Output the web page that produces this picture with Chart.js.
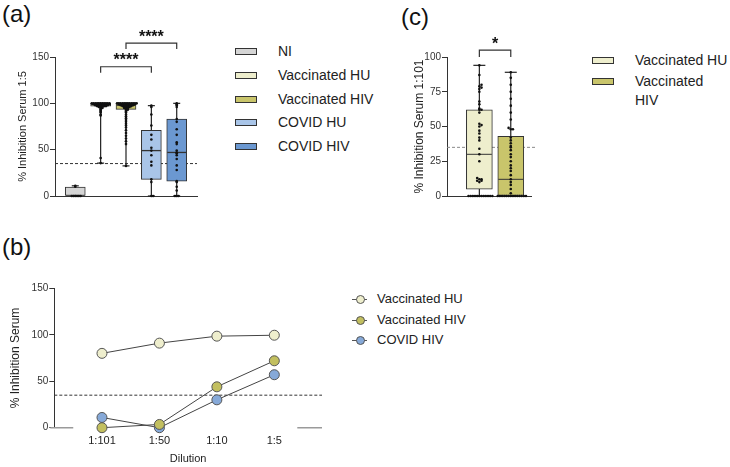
<!DOCTYPE html>
<html>
<head>
<meta charset="utf-8">
<script src="https://cdn.jsdelivr.net/npm/chart.js@4.4.1/dist/chart.umd.min.js"></script>
<style>
body { margin: 0; background: #fff; font-family: "Liberation Sans", Arial, sans-serif; }
#page { position: relative; width: 730px; height: 467px; overflow: hidden; }
canvas { position: absolute; }
.tag { position: absolute; font-size: 24px; line-height: 24px; color: #111; }
.row { position: absolute; color: #222; }
.sw { position: absolute; width: 20px; height: 5px; border: 1px solid #333; }
.mk-line { position: absolute; width: 15px; height: 1px; background: #555; }
.mk-dot { position: absolute; width: 7px; height: 7px; border: 1px solid #555; border-radius: 50%; }
</style>
</head>
<body>
<div id="page">
  <div class="tag" style="left:2px;top:2px">(a)</div>
  <div class="tag" style="left:2px;top:235px">(b)</div>
  <div class="tag" style="left:401px;top:5px">(c)</div>

  <canvas id="chart-a" width="215" height="215" style="left:0;top:0"></canvas>
  <canvas id="chart-b" width="330" height="207" style="left:0;top:260px"></canvas>
  <canvas id="chart-c" width="150" height="215" style="left:395px;top:0"></canvas>

  <div id="legend-a"></div>
  <div id="legend-b"></div>
  <div id="legend-c"></div>
</div>
<script>
const FONT = '"Liberation Sans", Arial, sans-serif';

// ---- panel (a): % inhibition serum 1:5
const groups_a = ['NI', 'Vaccinated HU', 'Vaccinated HIV', 'COVID HU', 'COVID HIV'];
const min_a = [0, 35.5, 32.5, 0, 0];
const q1_a = [0, 97, 93.5, 18, 16];
const median_a = [0, 99, 98, 49, 47];
const q3_a = [9.5, 100, 100, 71, 83];
const max_a = [11, 100, 100, 97.5, 100];
const points_a = [
    [0, 0, 0, 0, 0, 0, 10, 11],
    [35.5, 41, 87, 88, 90, 91, 92, 93, 94, 95, 95, 96, 96, 96,
     97, 97, 97, 97, 97, 97, 98, 98, 98, 98, 98, 98, 98, 98,
     99, 99, 99, 99, 99, 99, 99, 99, 99, 99,
     100, 100, 100, 100, 100, 100, 100, 100, 100, 100, 100],
    [32.5, 56, 59, 62, 65, 68, 71, 74, 76, 78, 80, 82, 84, 86, 88, 90, 91, 92, 93, 93, 94, 94, 95, 95, 95,
     96, 96, 96, 96, 97, 97, 97, 97, 97, 97, 98, 98, 98, 98, 98, 98, 98, 98,
     99, 99, 99, 99, 99, 99, 99, 99, 99, 99,
     100, 100, 100, 100, 100, 100, 100, 100, 100, 100, 100, 100],
    [0, 0, 15, 18, 33, 37, 44, 49, 52, 61, 66, 76, 88, 96, 97.5],
    [0, 0, 0, 6, 10, 15, 16, 28, 33, 40, 44, 46, 47, 49, 56, 58, 66, 72, 80, 83, 96, 98, 99, 100]
];
const sig_a = [
    {from: 1, to: 3, y: 139.5, text: '****'},
    {from: 2, to: 4, y: 165, text: '****'}
];
const threshold = 35;

// ---- panel (b): dilution curves
const dilutions = ['1:101', '1:50', '1:10', '1:5'];
const series_b = ['Vaccinated HU', 'Vaccinated HIV', 'COVID HIV'];
const vacc_hu_b = [80, 91, 98.5, 99.5];
const vacc_hiv_b = [0, 3.5, 44, 72];
const covid_hiv_b = [11, 0, 30, 57];

// ---- panel (c): % inhibition serum 1:101
const groups_c = ['Vaccinated HU', 'Vaccinated HIV'];
const min_c = [0, 0];
const q1_c = [5, 0];
const median_c = [30, 12];
const q3_c = [62, 43];
const max_c = [94, 89];
const points_c = [
    [0, 0, 0, 0, 0, 0, 0, 0, 0, 0, 0, 0, 10, 11, 11, 12, 12, 13, 25, 30, 34, 40, 42, 45, 47, 50, 51, 52,
     60, 62, 62, 63, 66, 68, 75, 77, 78, 79, 80, 87, 94],
    [0, 0, 0, 0, 0, 0, 0, 0, 0, 0, 0, 0, 0, 0, 2, 5, 8, 10, 12, 15, 18, 20, 22, 25, 28, 30, 33, 35, 36,
     38, 40, 42, 48, 48, 49, 55, 60, 65, 70, 75, 80, 85, 89]
];
const sig_c = [{from: 0, to: 1, y: 105, text: '*'}];

const fill_a = ['#d5d5d5', '#eeeecd', '#c9c56b', '#a9c5e8', '#6b98d1'];
const fill_c = ['#eeeecd', '#c9c56b'];
const line_colors_b = ['#eeeecd', '#c2bf5f', '#86a9d8'];

Chart.defaults.font.family = FONT;
Chart.defaults.color = '#222';
Chart.defaults.animation = false;
Chart.defaults.plugins.legend.display = false;
Chart.defaults.plugins.tooltip.enabled = false;

// spread points that sit on the same value sideways, like a swarm
swarm = (values, bin, step) => {
    const used = {};
    return values.map(v => {
        const k = Math.round(v / bin);
        const n = used[k] = (used[k] || 0) + 1;
        const i = n - 1;
        const off = i === 0 ? 0 : (i % 2 ? 1 : -1) * Math.ceil(i / 2) * step;
        return {off: off, y: v};
    });
};

function boxDatasets(mins, q1s, meds, q3s, maxs, points, fills, o) {
    const idx = mins.map((_, i) => i);
    const whisk = [];
    idx.forEach(i => {
        whisk.push({x: i, y: mins[i]}, {x: i, y: maxs[i]}, {x: i, y: null});
    });
    const dots = [];
    points.forEach((vals, i) => {
        swarm(vals, o.bin, o.step).forEach(p => dots.push({x: i + p.off, y: p.y}));
    });
    return [
        {type: 'scatter', data: dots, pointRadius: 1.3, pointBackgroundColor: '#111',
         pointBorderWidth: 0, clip: false},
        {type: 'scatter', data: idx.map(i => ({x: i, y: meds[i]})), pointStyle: 'line',
         pointRadius: o.boxWidth / 2 - 0.5, pointBorderColor: '#333', pointBorderWidth: o.medianWidth, clip: false},
        {type: 'scatter', data: idx.flatMap(i => [{x: i, y: mins[i]}, {x: i, y: maxs[i]}]), pointStyle: 'line',
         pointRadius: o.cap, pointBorderColor: '#222', pointBorderWidth: 1.2, clip: false},
        {type: 'bar', data: idx.map(i => ({x: i, y: [q1s[i], q3s[i]]})), backgroundColor: fills,
         borderColor: '#333', borderWidth: 1, borderSkipped: false, barThickness: o.boxWidth, grouped: false},
        {type: 'line', data: whisk, borderColor: '#222', borderWidth: 1.2, pointRadius: 0, spanGaps: false, clip: false}
    ];
}

function bracketDataset(sig, leg) {
    const pts = [];
    sig.forEach(s => {
        pts.push({x: s.from, y: s.y - leg}, {x: s.from, y: s.y}, {x: s.to, y: s.y},
                 {x: s.to, y: s.y - leg}, {x: s.to, y: null});
    });
    return {type: 'line', data: pts, borderColor: '#333', borderWidth: 1.2, pointRadius: 0,
            spanGaps: false, clip: false};
}

function thresholdDataset(xmin, xmax, color) {
    return {type: 'line', data: [{x: xmin, y: threshold}, {x: xmax, y: threshold}],
            borderColor: color, borderWidth: 1, borderDash: [3, 2], pointRadius: 0, clip: false};
}

function yAxis(max, step, title, titleSize, width) {
    return {
        min: 0, max: max,
        ticks: {stepSize: step, color: '#333', font: {size: 10}, padding: 1},
        grid: {display: true, drawOnChartArea: false, drawTicks: true, tickLength: 5, color: '#333'},
        border: {display: true, color: '#333', width: 1},
        title: {display: true, text: title, color: '#222', font: {size: titleSize}, padding: 0},
        afterFit: s => { s.width = width; }
    };
}

function flatX(xmin, xmax) {
    return {
        type: 'linear', min: xmin, max: xmax, offset: false,
        ticks: {display: false},
        grid: {display: false, drawTicks: false},
        border: {display: true, color: '#333', width: 1},
        afterFit: s => { s.height = 0; }
    };
}

const stars = {
    id: 'stars',
    afterDatasetsDraw(chart, args, opts) {
        const {ctx, scales: {x, y}} = chart;
        ctx.save();
        ctx.font = 'bold ' + opts.size + 'px ' + FONT;
        ctx.fillStyle = '#111';
        ctx.textAlign = 'center';
        ctx.textBaseline = 'alphabetic';
        opts.marks.forEach(s => {
            ctx.fillText(s.text, x.getPixelForValue((s.from + s.to) / 2), y.getPixelForValue(s.y) - 1.5);
        });
        ctx.restore();
    }
};

const brokenAxis = {
    id: 'brokenAxis',
    beforeDatasetsDraw(chart, args, opts) {
        const {ctx, chartArea, scales: {x, y}} = chart;
        const py = y.getPixelForValue(0);
        ctx.save();
        ctx.strokeStyle = '#9a9a9a';
        ctx.lineWidth = 1.5;
        ctx.beginPath();
        ctx.moveTo(chartArea.left - 4, py);
        ctx.lineTo(x.getPixelForValue(opts.gapFrom), py);
        ctx.moveTo(x.getPixelForValue(opts.gapTo), py);
        ctx.lineTo(chartArea.right, py);
        ctx.stroke();
        ctx.restore();
    }
};

// panel (a)
const ax_min = -0.8, ax_max = 4.8;
new Chart(document.getElementById('chart-a'), {
    type: 'bar',
    data: {
        datasets: [
            ...boxDatasets(min_a, q1_a, median_a, q3_a, max_a, points_a, fill_a,
                           {bin: 1, step: 0.07, boxWidth: 20, cap: 3.5, medianWidth: 1.3}),
            bracketDataset(sig_a, 6.5),
            thresholdDataset(ax_min, ax_max, '#333')
        ]
    },
    options: {
        responsive: false,
        devicePixelRatio: 1,
        layout: {padding: {left: 16.7, top: 57, right: 18, bottom: 19}},
        scales: {
            x: flatX(ax_min, ax_max),
            y: yAxis(150, 50, '% Inhibition Serum 1:5', 11, 38.3)
        },
        plugins: {stars: {marks: sig_a, size: 16}}
    },
    plugins: [stars]
});

// panel (b)
const bx_min = -0.83, bx_max = 3.83;
const values_b = [vacc_hu_b, vacc_hiv_b, covid_hiv_b];
new Chart(document.getElementById('chart-b'), {
    type: 'line',
    data: {
        datasets: [
            ...series_b.map((name, k) => ({
                label: name,
                data: dilutions.map((_, i) => ({x: i, y: values_b[k][i]})),
                borderColor: '#444', borderWidth: 1,
                pointRadius: 5, pointBackgroundColor: line_colors_b[k],
                pointBorderColor: '#555', pointBorderWidth: 1, clip: false
            })),
            thresholdDataset(bx_min, bx_max, '#333')
        ]
    },
    options: {
        responsive: false,
        devicePixelRatio: 1,
        layout: {padding: {left: 8.8, top: 28.3, right: 8, bottom: 1.4}},
        scales: {
            x: {
                type: 'linear', min: bx_min, max: bx_max, offset: false,
                afterBuildTicks: s => { s.ticks = dilutions.map((_, i) => ({value: i})); },
                ticks: {callback: v => dilutions[v], color: '#222', font: {size: 11}, padding: 6.7,
                        autoSkip: false, maxRotation: 0},
                grid: {display: false, drawTicks: false},
                border: {display: false},
                title: {display: true, text: 'Dilution', color: '#222', font: {size: 11}, padding: 0},
                afterFit: s => { s.height = 37.9; }
            },
            y: yAxis(150, 50, '% Inhibition Serum', 12, 45.5)
        },
        plugins: {brokenAxis: {gapFrom: -0.5, gapTo: 3.4}}
    },
    plugins: [brokenAxis]
});

// panel (c)
const cx_min = -1.03, cx_max = 1.66;
new Chart(document.getElementById('chart-c'), {
    type: 'bar',
    data: {
        datasets: [
            ...boxDatasets(min_c, q1_c, median_c, q3_c, max_c, points_c, fill_c,
                           {bin: 1.8, step: 0.069, boxWidth: 26, cap: 6, medianWidth: 1}),
            bracketDataset(sig_c, 5),
            thresholdDataset(cx_min, cx_max + 0.12, '#8a8a8a')
        ]
    },
    options: {
        responsive: false,
        devicePixelRatio: 1,
        layout: {padding: {left: 17.8, top: 57, right: 12, bottom: 19}},
        scales: {
            x: flatX(cx_min, cx_max),
            y: yAxis(100, 25, '% Inhibition Serum 1:101', 12, 34.2)
        },
        plugins: {stars: {marks: sig_c, size: 16}}
    },
    plugins: [stars]
});

// legends
function boxLegend(el, names, fills, swLeft, textLeft, centers, size, wrapWidth) {
    names.forEach((name, i) => {
        const sw = document.createElement('div');
        sw.className = 'sw';
        sw.style.left = swLeft + 'px';
        sw.style.top = (centers[i] - 3.5) + 'px';
        sw.style.background = fills[i];
        el.appendChild(sw);
        const row = document.createElement('div');
        row.className = 'row';
        row.style.left = textLeft + 'px';
        row.style.top = (centers[i] - 9.5) + 'px';
        row.style.fontSize = size + 'px';
        row.style.lineHeight = '19px';
        if (wrapWidth) {
            row.style.width = wrapWidth + 'px';
        } else {
            row.style.whiteSpace = 'nowrap';
        }
        row.textContent = name;
        el.appendChild(row);
    });
}
boxLegend(document.getElementById('legend-a'), groups_a, fill_a, 235, 278,
          [51.5, 75.3, 99, 122.8, 146.6], 14, 0);
boxLegend(document.getElementById('legend-c'), groups_c, fill_c, 592, 635, [60.2, 81.7], 14, 95);

const legend_b = document.getElementById('legend-b');
series_b.forEach((name, i) => {
    const cy = [299, 320, 340][i];
    const ln = document.createElement('div');
    ln.className = 'mk-line';
    ln.style.left = '352px';
    ln.style.top = (cy - 0.5) + 'px';
    legend_b.appendChild(ln);
    const dot = document.createElement('div');
    dot.className = 'mk-dot';
    dot.style.left = '355.5px';
    dot.style.top = (cy - 4.5) + 'px';
    dot.style.background = line_colors_b[i];
    legend_b.appendChild(dot);
    const row = document.createElement('div');
    row.className = 'row';
    row.style.left = '377px';
    row.style.top = (cy - 8) + 'px';
    row.style.fontSize = '13px';
    row.style.lineHeight = '16px';
    row.style.whiteSpace = 'nowrap';
    row.textContent = name;
    legend_b.appendChild(row);
});
</script>
</body>
</html>
